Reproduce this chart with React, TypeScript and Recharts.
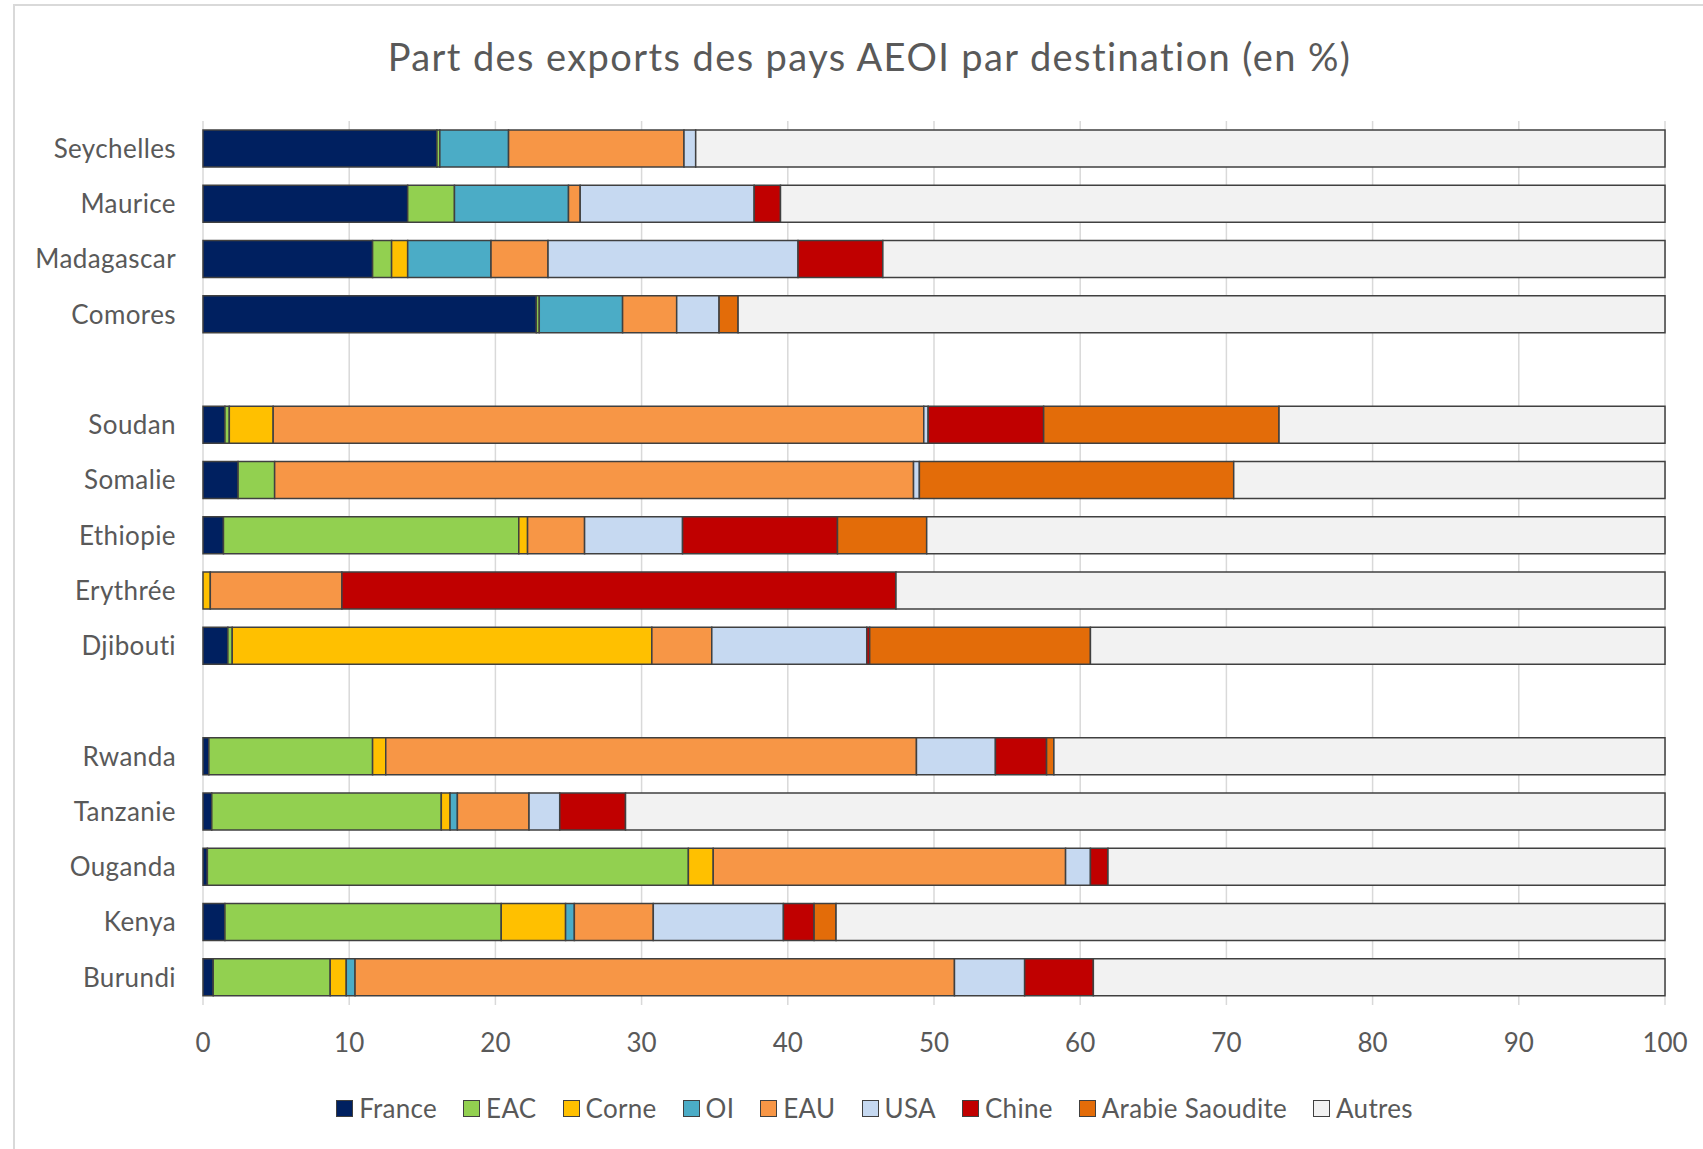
import { BarChart, Bar, XAxis, YAxis, CartesianGrid, Legend } from 'recharts';

// Categories, top to bottom (blank entries are the gaps between groups)
const countries = [
  'Seychelles', 'Maurice', 'Madagascar', 'Comores', '',
  'Soudan', 'Somalie', 'Ethiopie', 'Erythrée', 'Djibouti', ' ',
  'Rwanda', 'Tanzanie', 'Ouganda', 'Kenya', 'Burundi',
];

// Shares in %, same order as countries
const france = [16.0, 14.0, 11.6, 22.8, null, 1.5, 2.4, 1.4, 0, 1.7, null, 0.4, 0.6, 0.3, 1.5, 0.7];
const eac = [0.2, 3.2, 1.3, 0.2, null, 0.3, 2.5, 20.2, 0, 0.3, null, 11.2, 15.7, 32.9, 18.9, 8.0];
const corne = [0, 0, 1.1, 0, null, 3.0, 0, 0.6, 0.5, 28.7, null, 0.9, 0.6, 1.7, 4.4, 1.1];
const oi = [4.7, 7.8, 5.7, 5.7, null, 0, 0, 0, 0, 0, null, 0, 0.5, 0, 0.6, 0.6];
const eau = [12.0, 0.8, 3.9, 3.7, null, 44.5, 43.7, 3.9, 9.0, 4.1, null, 36.3, 4.9, 24.1, 5.4, 41.0];
const usa = [0.8, 11.9, 17.1, 2.9, null, 0.3, 0.4, 6.7, 0, 10.6, null, 5.4, 2.1, 1.7, 8.9, 4.8];
const chine = [0, 1.8, 5.8, 0, null, 7.9, 0, 10.6, 37.9, 0.2, null, 3.5, 4.5, 1.2, 2.1, 4.7];
const arabie = [0, 0, 0, 1.3, null, 16.1, 21.5, 6.1, 0, 15.1, null, 0.5, 0, 0, 1.5, 0];
const autres = [66.3, 60.5, 53.5, 63.4, null, 26.4, 29.5, 50.5, 52.6, 39.3, null, 41.8, 71.1, 38.1, 56.7, 39.1];

const xTicks = [0, 10, 20, 30, 40, 50, 60, 70, 80, 90, 100];

const series = [
  { key: 'France', values: france, color: '#002060' },
  { key: 'EAC', values: eac, color: '#92D050' },
  { key: 'Corne', values: corne, color: '#FFC000' },
  { key: 'OI', values: oi, color: '#4BACC6' },
  { key: 'EAU', values: eau, color: '#F79646' },
  { key: 'USA', values: usa, color: '#C6D9F1' },
  { key: 'Chine', values: chine, color: '#C00000' },
  { key: 'Arabie Saoudite', values: arabie, color: '#E36C09' },
  { key: 'Autres', values: autres, color: '#F2F2F2' },
];

const data = countries.map((name, i) => {
  const row: Record<string, string | number | null> = { name };
  series.forEach((s) => {
    row[s.key] = s.values[i];
  });
  return row;
});

const FONT = "Lato, 'Open Sans', sans-serif";
const TEXT = '#595959';

const LegendContent = () => (
  <div
    style={{
      display: 'flex',
      justifyContent: 'center',
      alignItems: 'center',
      fontFamily: FONT,
      fontSize: 26,
      letterSpacing: 0.3,
      color: TEXT,
    }}
  >
    {series.map((s, i) => (
      <div
        key={s.key}
        style={{ display: 'flex', alignItems: 'center', marginRight: i === series.length - 1 ? 0 : 26 }}
      >
        <span
          style={{
            display: 'inline-block',
            width: 15,
            height: 15,
            background: s.color,
            border: '1.5px solid #404040',
            marginRight: 6,
          }}
        />
        <span>{s.key}</span>
      </div>
    ))}
  </div>
);

const App = () => {
  return (
    <div style={{ position: 'relative', width: 1703, height: 1149, background: '#fff', overflow: 'hidden' }}>
      <style>{'body{margin:0}'}</style>
      <div
        style={{
          position: 'absolute',
          left: 13,
          top: 4,
          width: 1703,
          height: 1149,
          borderLeft: '2px solid #d9d9d9',
          borderTop: '2px solid #d9d9d9',
        }}
      />
      <div
        style={{
          position: 'absolute',
          top: 33,
          left: 18,
          width: 1703,
          textAlign: 'center',
          fontFamily: FONT,
          fontSize: 38,
          letterSpacing: 1.4,
          color: TEXT,
        }}
      >
        Part des exports des pays AEOI par destination (en %)
      </div>
      <BarChart
        width={1703}
        height={1149}
        data={data}
        layout="vertical"
        barSize={37}
        margin={{ top: 121, right: 38, left: 13, bottom: 84 }}
        style={{ position: 'absolute', top: 0, left: 0 }}
      >
        <CartesianGrid horizontal={false} stroke="#d9d9d9" strokeWidth={1.5} />
        <XAxis
          type="number"
          domain={[0, 100]}
          ticks={xTicks}
          axisLine={false}
          tickLine={false}
          tickMargin={23}
          height={60}
          tick={{ fill: TEXT, fontSize: 26, fontFamily: FONT }}
        />
        <YAxis
          type="category"
          dataKey="name"
          width={190}
          axisLine={false}
          tickLine={false}
          tickMargin={21}
          interval={0}
          tick={{ fill: TEXT, fontSize: 26, fontFamily: FONT, letterSpacing: 0.4 }}
        />
        <Legend
          verticalAlign="middle"
          layout="horizontal"
          content={<LegendContent />}
          wrapperStyle={{ position: 'absolute', top: 1092, left: 23, width: 1703 }}
        />
        {series.map((s) => (
          <Bar
            key={s.key}
            dataKey={s.key}
            stackId="a"
            fill={s.color}
            stroke="#404040"
            strokeWidth={1.5}
            isAnimationActive={false}
          />
        ))}
      </BarChart>
    </div>
  );
};

export default App;
